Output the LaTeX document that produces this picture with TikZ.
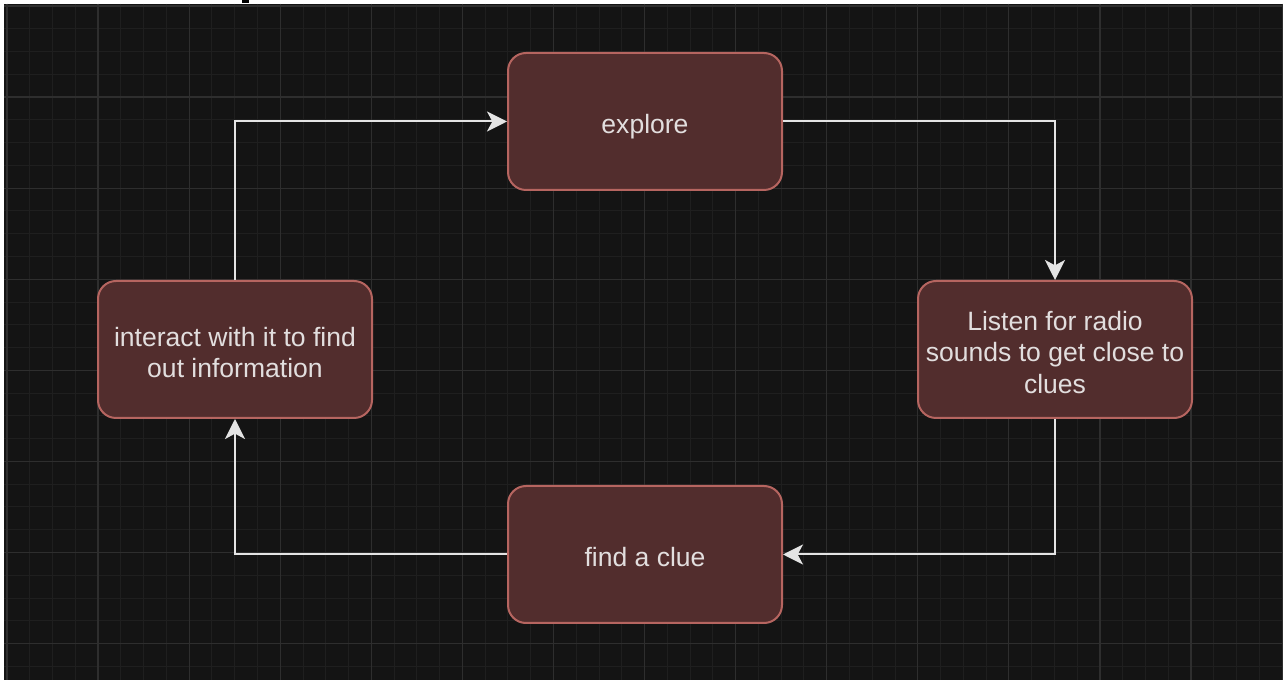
\documentclass[tikz,border=0pt]{standalone}
\usepackage{fontspec}
\setmainfont{Liberation Sans}
\usetikzlibrary{arrows.meta}
\definecolor{bgdark}{RGB}{20,20,20}
\definecolor{gridminor}{RGB}{31,31,31}
\definecolor{gridmajor}{RGB}{46,46,46}
\definecolor{boxfill}{RGB}{82,45,45}
\definecolor{boxline}{RGB}{182,101,96}
\definecolor{boxtext}{RGB}{226,222,222}
\definecolor{arrowcol}{RGB}{228,228,228}
\newcommand{\boxstrutA}{\rule[-5.07pt]{0pt}{28.87pt}}
\newcommand{\boxstrutB}{\rule[-5.07pt]{0pt}{23.87pt}}
\tikzset{
  stepbox/.style={draw=boxline, fill=boxfill, line width=1.5pt, rounded corners=13.5pt,
    minimum width=205.5pt, minimum height=102.75pt, inner sep=0pt, align=center,
    text=boxtext, font=\fontsize{19.9pt}{23.87pt}\selectfont},
  flow/.style={draw=arrowcol, line width=1.5pt,
    -{Stealth[length=15pt, width=15pt, inset=4pt]}}
}
\begin{document}
\begin{tikzpicture}[x=0.75pt, y=-0.75pt]
\useasboundingbox (0,0) rectangle (1283,680);
\fill[white] (0,0) rectangle (1283,680);
\fill[bgdark] (4,4) rectangle (1283,680);
\fill[black] (242,0) rectangle (249,3);
\begin{scope}
\clip (4,4) rectangle (1283,680);
\foreach \i in {0,...,57} {
  \draw[gridminor, line width=0.75pt] ({7+22.77*\i},4) -- ({7+22.77*\i},680);
}
\foreach \i in {0,...,30} {
  \draw[gridminor, line width=0.75pt] (4,{6+22.77*\i}) -- (1283,{6+22.77*\i});
}
\foreach \i in {0,...,14} {
  \draw[gridmajor, line width=0.9pt] ({7+91.08*\i},4) -- ({7+91.08*\i},680);
}
\foreach \i in {0,...,7} {
  \draw[gridmajor, line width=0.9pt] (4,{6+91.08*\i}) -- (1283,{6+91.08*\i});
}
\end{scope}
\node[stepbox] (explore) at (645,121.5) {\boxstrutA explore\boxstrutB};
\node[stepbox] (listen) at (1055,349.5) {\boxstrutA Listen for radio\\sounds to get close to\\clues\boxstrutB};
\node[stepbox] (clue) at (645,554.5) {\boxstrutA find a clue\boxstrutB};
\node[stepbox] (interact) at (235,349.5) {\boxstrutA interact with it to find\\out information\boxstrutB};
\draw[flow] (explore.east) -| (listen.north);
\draw[flow] (listen.south) |- (clue.east);
\draw[flow] (clue.west) -| (interact.south);
\draw[flow] (interact.north) |- (explore.west);
\end{tikzpicture}
\end{document}
